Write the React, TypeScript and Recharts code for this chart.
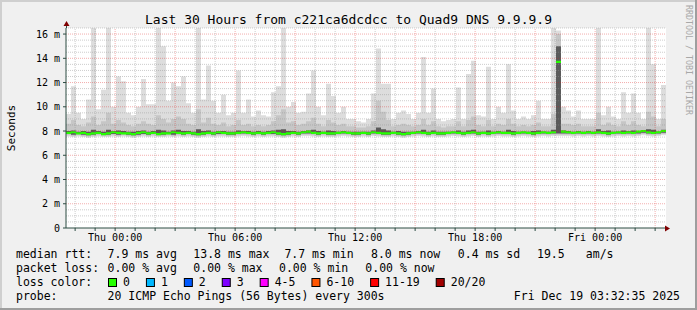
import React from 'react';
import { ComposedChart, Area, XAxis, YAxis, CartesianGrid, ReferenceLine } from 'recharts';

const MONO = '"DejaVu Sans Mono", monospace';
const AXIS = '#2C4D43';

// 30 hours ending Fri Dec 19 03:32:35, one value per 15 min (ms)
const STEP_H = 0.25;
const SPAN_H = 30;
// first full hour after graph start (Wed 22:00)
const FIRST_HOUR = 0.457;
const labelHourIdx = [2, 8, 14, 20, 26];
const tickLabels = ['Thu 00:00', 'Thu 06:00', 'Thu 12:00', 'Thu 18:00', 'Fri 00:00'];
const yTicks = [0, 2, 4, 6, 8, 10, 12, 14, 16];

const maxRtt = [
  9.4, 11.7, 9.5, 9.0, 10.6, 16.5, 9.8, 11.4, 16.5, 10.0,
  12.5, 12.1, 9.5, 9.3, 10.0, 12.3, 10.2, 10.2, 16.5, 15.0,
  10.5, 12.0, 11.7, 12.5, 10.3, 9.5, 16.5, 10.6, 13.4, 10.5,
  9.5, 11.0, 9.3, 9.5, 13.0, 9.5, 10.6, 9.2, 9.7, 9.3,
  9.2, 11.2, 11.7, 16.5, 10.0, 10.4, 9.5, 9.6, 11.1, 13.0,
  10.0, 9.3, 11.9, 10.9, 9.5, 10.0, 9.0, 9.0, 8.8, 8.7,
  9.0, 11.1, 14.8, 11.9, 11.9, 9.0, 9.5, 9.7, 9.4, 9.0,
  9.5, 14.1, 9.5, 11.5, 9.0, 8.8, 8.9, 9.0, 11.6, 9.0,
  12.7, 13.8, 9.3, 9.2, 13.3, 9.0, 10.0, 9.5, 13.5, 9.7,
  9.0, 9.2, 9.0, 9.3, 10.5, 9.0, 9.0, 16.5, 16.3, 10.0,
  9.7, 9.2, 9.7, 9.0, 9.0, 9.0, 16.5, 9.3, 10.0, 9.2,
  9.0, 11.2, 9.5, 11.1, 9.5, 9.0, 16.5, 13.5, 9.0, 11.8,
];

const midRtt = [
  8.6, 8.9, 8.5, 8.4, 8.7, 9.2, 8.5, 8.8, 9.5, 8.6,
  8.9, 8.7, 8.5, 8.4, 8.6, 8.8, 8.6, 8.5, 9.3, 9.0,
  8.7, 9.0, 9.2, 9.0, 8.6, 8.5, 9.8, 8.7, 9.1, 8.6,
  8.5, 8.7, 8.4, 8.5, 8.9, 8.5, 8.6, 8.4, 8.5, 8.4,
  8.5, 8.8, 9.3, 9.8, 8.7, 8.8, 8.5, 8.6, 8.8, 9.1,
  8.6, 8.4, 8.9, 8.7, 8.5, 8.6, 8.4, 8.4, 8.3, 8.3,
  8.4, 8.8, 10.5, 9.6, 8.9, 8.4, 8.5, 8.6, 8.5, 8.4,
  8.5, 9.0, 8.5, 8.8, 8.4, 8.3, 8.4, 8.4, 8.8, 8.4,
  8.9, 9.2, 8.5, 8.4, 8.9, 8.4, 8.6, 8.5, 9.0, 8.6,
  8.4, 8.5, 8.4, 8.5, 8.7, 8.4, 8.4, 9.4, 16.0, 8.6,
  8.6, 8.5, 8.6, 8.4, 8.4, 8.4, 9.5, 8.5, 8.7, 8.5,
  8.4, 8.8, 8.5, 8.8, 8.5, 8.4, 9.6, 9.2, 8.4, 9.0,
];

const darkRtt = [
  8.0, 8.05, 7.95, 8.0, 7.95, 8.1, 8.0, 7.95, 8.1, 8.0,
  8.05, 8.0, 7.95, 7.95, 8.0, 8.05, 7.95, 8.0, 8.1, 8.05,
  7.95, 8.05, 8.1, 8.0, 8.0, 7.95, 8.15, 8.0, 8.05, 7.95,
  8.0, 8.0, 7.95, 7.95, 8.05, 8.0, 8.0, 7.95, 8.0, 7.95,
  8.0, 8.05, 8.1, 8.15, 8.0, 8.0, 7.95, 8.0, 8.05, 8.1,
  8.0, 7.95, 8.05, 8.0, 7.95, 8.0, 7.95, 7.95, 7.95, 7.95,
  7.95, 8.05, 8.3, 8.15, 8.05, 7.95, 8.0, 7.95, 7.95, 7.95,
  8.0, 8.1, 7.95, 8.05, 7.95, 7.95, 7.95, 7.95, 8.05, 7.95,
  8.05, 8.1, 7.95, 7.95, 8.05, 7.95, 8.0, 7.95, 8.1, 8.0,
  7.95, 7.95, 7.95, 8.0, 8.05, 7.95, 7.95, 8.1, 15.0, 8.05,
  8.0, 7.95, 8.0, 7.95, 8.0, 7.95, 8.15, 8.0, 8.05, 7.95,
  7.95, 8.05, 8.0, 8.05, 8.0, 8.0, 8.15, 8.1, 7.95, 8.1,
];

const medRtt = [
  7.85, 7.9, 7.8, 7.85, 7.75, 7.8, 7.85, 7.75, 7.8, 7.9,
  7.85, 7.8, 7.8, 7.75, 7.85, 7.9, 7.8, 7.85, 7.75, 7.8,
  7.8, 7.9, 7.85, 7.8, 7.85, 7.8, 7.75, 7.8, 7.85, 7.8,
  7.9, 7.85, 7.8, 7.8, 7.85, 7.9, 7.85, 7.8, 7.85, 7.8,
  7.85, 7.9, 7.8, 7.75, 7.8, 7.85, 7.8, 7.9, 7.95, 7.85,
  7.8, 7.85, 7.8, 7.8, 7.85, 7.9, 7.85, 7.8, 7.8, 7.85,
  7.8, 7.9, 7.85, 7.8, 7.8, 7.85, 7.8, 7.75, 7.8, 7.85,
  7.9, 7.85, 7.8, 7.85, 7.8, 7.8, 7.85, 7.9, 7.85, 7.8,
  7.85, 7.9, 7.8, 7.85, 7.8, 7.85, 7.9, 7.85, 7.85, 7.8,
  7.85, 7.9, 7.85, 7.8, 7.85, 7.9, 7.85, 7.9, 13.7, 7.95,
  7.9, 7.85, 7.9, 7.85, 7.9, 7.85, 7.9, 7.85, 7.8, 7.85,
  7.9, 7.85, 7.9, 7.85, 7.95, 8.0, 7.9, 7.85, 7.9, 8.0,
];

const minRtt = [
  7.55, 7.5, 7.55, 7.5, 7.45, 7.5, 7.55, 7.5, 7.5, 7.55,
  7.5, 7.55, 7.5, 7.45, 7.5, 7.55, 7.5, 7.55, 7.5, 7.5,
  7.55, 7.5, 7.55, 7.5, 7.55, 7.5, 7.45, 7.5, 7.55, 7.5,
  7.55, 7.55, 7.5, 7.5, 7.55, 7.6, 7.55, 7.5, 7.55, 7.5,
  7.55, 7.55, 7.5, 7.45, 7.5, 7.55, 7.5, 7.6, 7.6, 7.55,
  7.5, 7.55, 7.5, 7.5, 7.55, 7.6, 7.55, 7.5, 7.5, 7.55,
  7.5, 7.6, 7.55, 7.5, 7.5, 7.55, 7.5, 7.45, 7.5, 7.55,
  7.6, 7.55, 7.5, 7.55, 7.5, 7.5, 7.55, 7.6, 7.55, 7.5,
  7.55, 7.6, 7.5, 7.55, 7.5, 7.55, 7.6, 7.55, 7.55, 7.5,
  7.55, 7.6, 7.55, 7.5, 7.55, 7.6, 7.55, 7.6, 7.6, 7.6,
  7.6, 7.55, 7.6, 7.55, 7.6, 7.55, 7.6, 7.55, 7.5, 7.55,
  7.6, 7.55, 7.6, 7.55, 7.6, 7.65, 7.6, 7.55, 7.6, 7.65,
];

const lossLabels = ['0', '1', '2', '3', '4-5', '6-10', '11-19', '20/20'];
const lossColors = ['#26ff00', '#00b8ff', '#0059ff', '#7e00ff', '#ff00ff', '#ff5500', '#ff0000', '#a10000'];

const rttLegend = [
  ['7.9 ms avg', 107.6], ['13.8 ms max', 193.3], ['7.7 ms min', 284.4],
  ['8.0 ms now', 371], ['0.4 ms sd', 457.8], ['19.5', 537], ['am/s', 585.8],
] as const;
const lossLegend = [
  ['0.00 % avg', 107.6], ['0.00 % max', 193.3], ['0.00 % min', 279], ['0.00 % now', 365.3],
] as const;

function buildRows() {
  const rows = maxRtt.map((_, i) => ({
    t: i * STEP_H,
    light: [minRtt[i], maxRtt[i]],
    mid: [minRtt[i] + 0.1, midRtt[i]],
    dark: [minRtt[i] + 0.2, darkRtt[i]],
    med: [medRtt[i] - 0.09, medRtt[i] + 0.09],
  }));
  rows.push({ ...rows[rows.length - 1], t: SPAN_H });
  return rows;
}

export default function App() {
  const data = buildRows();
  const hourMarks = Array.from({ length: SPAN_H }, (_, k) => FIRST_HOUR + k);
  const yMinor: number[] = [];
  for (let v = 0.5; v <= 16.5; v += 0.5) if (v % 2 !== 0) yMinor.push(v);
  const yMajor = yTicks.filter((v) => v > 0);

  const cw = 6.92;
  let bx = 108;
  const boxes = lossLabels.map((lab, i) => {
    const item = { x: bx, lab, color: lossColors[i] };
    bx = bx + 15 + lab.length * cw + 16;
    return item;
  });

  const legendText = { fontFamily: MONO, fontSize: 11.5, fill: '#000' };

  return (
    <div style={{ position: 'fixed', left: 0, top: 0, width: 697, height: 310, background: '#f0f0f0', overflow: 'hidden' }}>
      <div style={{ position: 'absolute', left: 0, top: 0 }}>
        <ComposedChart width={697} height={310} data={data} margin={{ top: 28, right: 31, bottom: 62, left: 0 }}>
          <CartesianGrid fill="#ffffff" horizontal={false} vertical={false} stroke="none" />
          <XAxis
            type="number"
            dataKey="t"
            domain={[0, SPAN_H]}
            allowDataOverflow
            ticks={hourMarks}
            interval={0}
            height={20}
            tickSize={3}
            tickMargin={3}
            axisLine={{ stroke: AXIS }}
            tickLine={{ stroke: AXIS }}
            tick={{ fontSize: 10, fontFamily: MONO, fill: '#000' }}
            tickFormatter={(_v: number, idx: number) => {
              const j = labelHourIdx.indexOf(idx);
              return j >= 0 ? tickLabels[j] : '';
            }}
          />
          <YAxis
            type="number"
            domain={[0, 16.5]}
            allowDataOverflow
            ticks={yTicks}
            interval={0}
            width={66}
            tickSize={3}
            tickMargin={3}
            axisLine={{ stroke: AXIS }}
            tickLine={{ stroke: AXIS }}
            tick={{ fontSize: 10, fontFamily: MONO, fill: '#000' }}
            tickFormatter={(v: number) => (v === 0 ? '0' : `${v} m`)}
          />
          <Area dataKey="light" type="stepAfter" stroke="none" fill="#dddddd" fillOpacity={1} isAnimationActive={false} dot={false} activeDot={false} />
          <Area dataKey="mid" type="stepAfter" stroke="none" fill="#c6c6c6" fillOpacity={1} isAnimationActive={false} dot={false} activeDot={false} />
          <Area dataKey="dark" type="stepAfter" stroke="none" fill="#5a5a5a" fillOpacity={1} isAnimationActive={false} dot={false} activeDot={false} />
          <Area dataKey="med" type="stepAfter" stroke="none" fill="#26ff00" fillOpacity={1} isAnimationActive={false} dot={false} activeDot={false} />
          {yMinor.map((v) => (
            <ReferenceLine key={`ym${v}`} y={v} stroke="#8f8f8f" strokeOpacity={0.45} strokeDasharray="1 1" />
          ))}
          {yMajor.map((v) => (
            <ReferenceLine key={`yM${v}`} y={v} stroke="#de1616" strokeOpacity={0.35} strokeDasharray="1 1" />
          ))}
          {hourMarks.map((h, k) => (
            <ReferenceLine
              key={`x${k}`}
              x={h}
              stroke={k % 3 === 2 ? '#de1616' : '#8f8f8f'}
              strokeOpacity={k % 3 === 2 ? 0.35 : 0.45}
              strokeDasharray="1 1"
            />
          ))}
        </ComposedChart>
      </div>
      <svg width={697} height={310} style={{ position: 'absolute', left: 0, top: 0, pointerEvents: 'none' }}>
        <rect x={0} y={0} width={697} height={2} fill="#cfcfcf" />
        <rect x={0} y={0} width={2} height={310} fill="#cfcfcf" />
        <rect x={0} y={308} width={697} height={2} fill="#9e9e9e" />
        <rect x={695} y={0} width={2} height={310} fill="#9e9e9e" />
        {/* axis extensions with arrows */}
        <line x1={666} y1={228.5} x2={668} y2={228.5} stroke={AXIS} />
        <polygon points="665,225.5 670,228.5 665,231.5" fill="#7f0000" />
        <line x1={66.5} y1={28} x2={66.5} y2={25} stroke={AXIS} />
        <polygon points="63.5,26 66.5,21 69.5,26" fill="#7f0000" />
        <text x={348.5} y={24} textAnchor="middle" fontFamily={MONO} fontSize={13} fill="#000">
          Last 30 Hours from c221ca6dcdcc to Quad9 DNS 9.9.9.9
        </text>
        <text x={15} y={128} textAnchor="middle" transform="rotate(-90 15 128)" fontFamily={MONO} fontSize={11} fill="#000">
          Seconds
        </text>
        <text x={686} y={5} transform="rotate(90 686 5)" fontFamily={MONO} fontSize={8.3} fill="#a8a8a8">
          RRDTOOL / TOBI OETIKER
        </text>
        <text x={16} y={258} {...legendText}>median rtt:</text>
        {rttLegend.map(([s, x]) => (
          <text key={s} x={x} y={258} {...legendText}>{s}</text>
        ))}
        <text x={16} y={272} {...legendText}>packet loss:</text>
        {lossLegend.map(([s, x]) => (
          <text key={s} x={x} y={272} {...legendText}>{s}</text>
        ))}
        <text x={16} y={286} {...legendText}>loss color:</text>
        {boxes.map((b) => (
          <g key={b.lab}>
            <rect x={b.x + 0.5} y={278.5} width={8} height={8} fill={b.color} stroke="#000" />
            <text x={b.x + 15} y={286} {...legendText}>{b.lab}</text>
          </g>
        ))}
        <text x={16} y={300} {...legendText}>probe:</text>
        <text x={107.6} y={300} {...legendText}>20 ICMP Echo Pings (56 Bytes) every 300s</text>
        <text x={680} y={300} textAnchor="end" {...legendText}>Fri Dec 19 03:32:35 2025</text>
      </svg>
    </div>
  );
}
